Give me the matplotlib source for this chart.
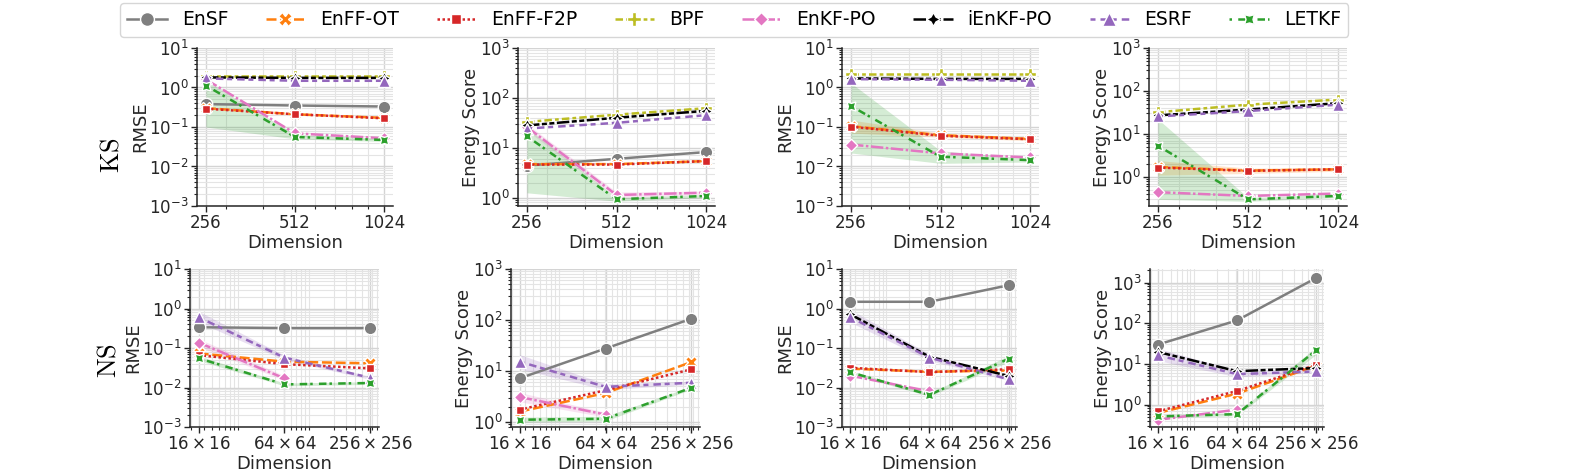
import numpy as np
import matplotlib
matplotlib.use("Agg")
import matplotlib.pyplot as plt
from matplotlib.lines import Line2D
from matplotlib.ticker import LogLocator, NullFormatter

nan = np.nan

methods = ["EnSF", "EnFF-OT", "EnFF-F2P", "BPF", "EnKF-PO", "iEnKF-PO", "ESRF", "LETKF"]
colors = ["#7f7f7f", "#ff7f0e", "#d62728", "#bcbd22", "#e377c2", "#000000", "#9467bd", "#2ca02c"]
markers = ["o", "X", (4, 0, 45), "P", (4, 0, 0), (4, 1, 0), "^", (4, 1, 45)]
dashes = [(None, None), (4, 1.5), (1, 1), (3, 1.25, 1.5, 1.25), (5, 1, 1, 1),
          (5, 1, 2, 1, 2, 1), (2, 2, 3, 1.5), (1, 2.5, 3, 1.2)]

ks_dims = [256, 512, 1024]
ks_labels = ["256", "512", "1024"]
ns_dims = [256, 4096, 65536]
ns_labels = [r"$16\times16$", r"$64\times64$", r"$256\times256$"]

# KS, RMSE (first setting)
ks_rmse_a = {
    "EnSF": [0.38, 0.35, 0.33], "EnFF-OT": [0.30, 0.21, 0.17], "EnFF-F2P": [0.29, 0.21, 0.166],
    "BPF": [2.0, 2.0, 2.0], "EnKF-PO": [1.6, 0.069, 0.052], "iEnKF-PO": [1.8, 1.75, 1.75],
    "ESRF": [1.7, 1.48, 1.48], "LETKF": [1.12, 0.056, 0.047],
}
ks_rmse_a_band = {"LETKF": ([0.1, 0.05, 0.043], [1.5, 0.065, 0.052])}

# KS, energy score (first setting)
ks_es_a = {
    "EnSF": [4.4, 6.0, 8.2], "EnFF-OT": [4.7, 4.7, 5.4], "EnFF-F2P": [4.6, 4.6, 5.4],
    "BPF": [33, 46, 62], "EnKF-PO": [26, 1.13, 1.26], "iEnKF-PO": [28, 40, 55],
    "ESRF": [24.3, 31.6, 45], "LETKF": [17, 0.93, 1.08],
}
ks_es_a_band = {"EnKF-PO": ([22, 1.0, 1.15], [30, 1.3, 1.35]),
                "LETKF": ([1.25, 0.85, 1.0], [25, 1.0, 1.15])}

# KS, RMSE (second setting)
ks_rmse_b = {
    "EnSF": [nan, nan, nan], "EnFF-OT": [0.105, 0.062, 0.05], "EnFF-F2P": [0.102, 0.06, 0.049],
    "BPF": [2.2, 2.2, 2.2], "EnKF-PO": [0.036, 0.0215, 0.0169], "iEnKF-PO": [1.7, 1.65, 1.65],
    "ESRF": [1.63, 1.57, 1.48], "LETKF": [0.34, 0.0177, 0.0145],
}
ks_rmse_b_band = {"EnFF-OT": ([0.07, 0.055, 0.045], [0.15, 0.07, 0.055]),
                  "LETKF": ([0.022, 0.012, 0.013], [1.3, 0.025, 0.016])}

# KS, energy score (second setting)
ks_es_b = {
    "EnSF": [nan, nan, nan], "EnFF-OT": [1.7, 1.4, 1.5], "EnFF-F2P": [1.65, 1.38, 1.5],
    "BPF": [32, 48, 63], "EnKF-PO": [0.44, 0.36, 0.41], "iEnKF-PO": [27, 37, 52],
    "ESRF": [25.5, 34, 48], "LETKF": [5.3, 0.3, 0.36],
}
ks_es_b_band = {"EnFF-OT": ([1.1, 1.2, 1.35], [2.4, 1.6, 1.65]),
                "LETKF": ([0.3, 0.27, 0.33], [22, 0.33, 0.4])}

# NS, RMSE (first setting)
ns_rmse_a = {
    "EnSF": [0.335, 0.32, 0.32], "EnFF-OT": [0.073, 0.045, 0.041], "EnFF-F2P": [0.066, 0.039, 0.0305],
    "BPF": [nan, nan, nan], "EnKF-PO": [0.137, 0.017, nan], "iEnKF-PO": [nan, nan, nan],
    "ESRF": [0.6, 0.057, 0.0176], "LETKF": [0.055, 0.012, 0.013],
}
ns_rmse_a_band = {"EnKF-PO": ([0.11, 0.015, nan], [0.17, 0.02, nan]),
                  "ESRF": ([0.45, 0.05, 0.016], [0.85, 0.065, 0.019]),
                  "LETKF": ([0.048, 0.011, 0.012], [0.063, 0.013, 0.014])}

# NS, energy score (first setting)
ns_es_a = {
    "EnSF": [7.2, 27.6, 106], "EnFF-OT": [1.6, 3.7, 15], "EnFF-F2P": [1.75, 4.2, 10.8],
    "BPF": [nan, nan, nan], "EnKF-PO": [3.1, 1.4, nan], "iEnKF-PO": [nan, nan, nan],
    "ESRF": [15.3, 4.9, 5.9], "LETKF": [1.11, 1.16, 4.7],
}
ns_es_a_band = {"EnKF-PO": ([2.5, 1.25, nan], [3.8, 1.55, nan]),
                "ESRF": ([11, 4.3, 5.5], [21, 5.6, 6.3]),
                "LETKF": ([1.0, 1.05, 4.4], [1.25, 1.3, 5.0])}

# NS, RMSE (second setting)
ns_rmse_b = {
    "EnSF": [1.48, 1.48, 3.9], "EnFF-OT": [0.03, 0.025, 0.027], "EnFF-F2P": [0.0316, 0.0245, 0.029],
    "BPF": [nan, nan, nan], "EnKF-PO": [0.02, 0.008, nan], "iEnKF-PO": [0.72, 0.06, 0.0195],
    "ESRF": [0.61, 0.057, 0.016], "LETKF": [0.0245, 0.0065, 0.054],
}
ns_rmse_b_band = {"ESRF": ([0.45, 0.048, 0.015], [0.95, 0.07, 0.018]),
                  "LETKF": ([0.022, 0.006, 0.045], [0.027, 0.0072, 0.065])}

# NS, energy score (second setting)
ns_es_b = {
    "EnSF": [29.8, 117, 1290], "EnFF-OT": [0.62, 1.85, 9], "EnFF-F2P": [0.68, 2.15, 9.4],
    "BPF": [nan, nan, nan], "EnKF-PO": [0.42, 0.75, nan], "iEnKF-PO": [19.6, 6.6, 7.9],
    "ESRF": [16.2, 5.6, 6.5], "LETKF": [0.51, 0.58, 21.5],
}
ns_es_b_band = {"ESRF": ([12, 4.8, 6], [24, 6.8, 7.2]),
                "LETKF": ([0.47, 0.53, 17], [0.56, 0.63, 26])}

# (data, band, dims, labels, ylabel, ylim, axes rect in pixels: left, top, right, bottom)
panels = [
    (ks_rmse_a, ks_rmse_a_band, ks_dims, ks_labels, "RMSE", (1e-3, 1e1), (197, 48, 393, 206)),
    (ks_es_a, ks_es_a_band, ks_dims, ks_labels, "Energy Score", (0.68, 1e3), (518, 48, 715, 206)),
    (ks_rmse_b, ks_rmse_b_band, ks_dims, ks_labels, "RMSE", (1e-3, 1e1), (842, 48, 1039, 206)),
    (ks_es_b, ks_es_b_band, ks_dims, ks_labels, "Energy Score", (0.21, 1e3), (1149, 48, 1347, 206)),
    (ns_rmse_a, ns_rmse_a_band, ns_dims, ns_labels, "RMSE", (1e-3, 1e1), (190, 269, 379, 427)),
    (ns_es_a, ns_es_a_band, ns_dims, ns_labels, "Energy Score", (0.8, 1e3), (511, 269, 700, 427)),
    (ns_rmse_b, ns_rmse_b_band, ns_dims, ns_labels, "RMSE", (1e-3, 1e1), (842, 269, 1017, 427)),
    (ns_es_b, ns_es_b_band, ns_dims, ns_labels, "Energy Score", (0.28, 2150), (1150, 269, 1324, 427)),
]

W, H = 1579, 475
fig = plt.figure(figsize=(W / 100, H / 100), dpi=100)
text_color = "#262626"

for data, band, dims, labels, ylabel, ylim, (l, t, r, b) in panels:
    ax = fig.add_axes([l / W, 1 - b / H, (r - l) / W, (b - t) / H])
    for i, m in enumerate(methods):
        if m in band:
            lo, hi = band[m]
            ax.fill_between(dims, lo, hi, color=colors[i], alpha=0.2, lw=0)
    for i, m in enumerate(methods):
        line, = ax.plot(dims, data[m], color=colors[i], lw=1.8, marker=markers[i],
                        markersize=9, markeredgecolor="white", markeredgewidth=1.0)
        if dashes[i][0] is not None:
            line.set_dashes(dashes[i])
    ax.set_xscale("log")
    ax.set_yscale("log")
    ax.set_xticks(dims)
    ax.set_xticklabels(labels)
    ax.xaxis.set_minor_locator(LogLocator(base=10, subs=np.arange(2, 10)))
    ax.xaxis.set_minor_formatter(NullFormatter())
    ax.yaxis.set_major_locator(LogLocator(base=10, numticks=10))
    ax.yaxis.set_minor_locator(LogLocator(base=10, subs=np.arange(2, 10), numticks=20))
    ax.yaxis.set_minor_formatter(NullFormatter())
    ax.set_ylim(*ylim)
    ax.grid(which="major", color="#d4d4d4", lw=1.0)
    ax.grid(which="minor", color="#e4e4e4", lw=0.8)
    ax.set_axisbelow(True)
    for s in ("top", "right"):
        ax.spines[s].set_visible(False)
    for s in ("left", "bottom"):
        ax.spines[s].set_color(text_color)
        ax.spines[s].set_linewidth(1.1)
    ax.tick_params(which="major", length=4, width=1, colors=text_color, labelsize=12, pad=2)
    ax.tick_params(which="minor", length=2, width=0.8, colors=text_color)
    ax.set_xlabel("Dimension", fontsize=13, color=text_color, labelpad=1)
    ax.set_ylabel(ylabel, fontsize=13, color=text_color, labelpad=0)

fig.text(0.0705, 0.674, r"$\mathrm{KS}$", rotation=90, fontsize=19, ha="center", va="center",
         math_fontfamily="cm")
fig.text(0.0685, 0.242, r"$\mathrm{NS}$", rotation=90, fontsize=19, ha="center", va="center",
         math_fontfamily="cm")

handles = []
for i, m in enumerate(methods):
    h = Line2D([], [], color=colors[i], lw=1.8, marker=markers[i], markersize=10,
               markeredgecolor="white", markeredgewidth=1.0)
    if dashes[i][0] is not None:
        h.set_dashes(dashes[i])
    handles.append(h)
fig.legend(handles, methods, loc="upper center", bbox_to_anchor=(0.4649, 1.0), ncol=8,
           fontsize=13.5, frameon=True, edgecolor="#cccccc", handlelength=2.1,
           handletextpad=0.8, columnspacing=2.0, borderaxespad=0.15)

fig.savefig("out.png", dpi=100)
